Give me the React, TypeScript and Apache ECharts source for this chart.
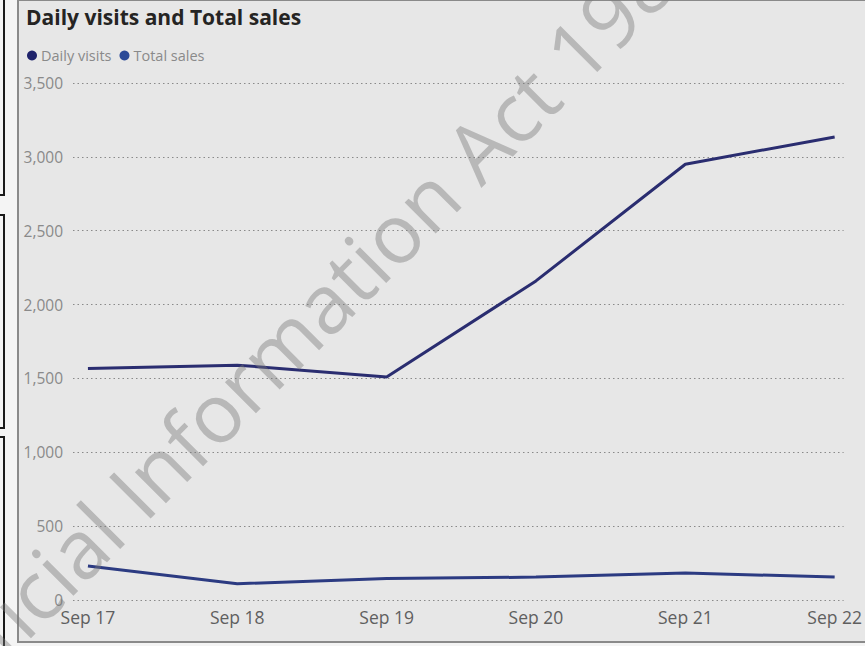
import React, { useEffect, useRef } from "react";
import * as echarts from "echarts";

const categories = ["Sep 17", "Sep 18", "Sep 19", "Sep 20", "Sep 21", "Sep 22"];
const dailyVisits = [1568, 1590, 1510, 2160, 2950, 3135];
const totalSales = [230, 110, 145, 155, 183, 155];
const yTicks = [0, 500, 1000, 1500, 2000, 2500, 3000, 3500];
const seriesNames = ["Daily visits", "Total sales"];
const titleText = "Daily visits and Total sales";
const watermarkHead = "Released under the Offi";
const watermarkTail = "cial Information Act 1982";

const fmt = (v: number) => v.toLocaleString("en-US");

export default function App() {
  const ref = useRef<HTMLDivElement>(null);
  useEffect(() => {
    if (!ref.current) return;
    const chart = echarts.init(ref.current, null, { renderer: "svg" });
    const font = "'Open Sans', 'Noto Sans', sans-serif";
    const rot = Math.PI / 4;
    const wmX = 18;
    const wmY = 606;
    const wmSize = 82;
    const wmFill = "rgba(120,120,120,0.42)";
    chart.setOption({
      animation: false,
      backgroundColor: "#e7e7e7",
      title: {
        text: titleText,
        left: 26,
        top: 6,
        padding: 0,
        textStyle: { fontSize: 21, fontWeight: "bold", color: "#252423", fontFamily: font },
      },
      legend: {
        data: seriesNames,
        left: 27,
        top: 48,
        padding: 0,
        icon: "circle",
        itemWidth: 10,
        itemHeight: 10,
        itemGap: 8,
        textStyle: { fontSize: 14.5, color: "#8a8a8a", fontFamily: font, padding: [0, 0, 0, -1] },
      },
      grid: { left: 73, right: 3, top: 83, bottom: 46, containLabel: false },
      xAxis: {
        type: "value",
        min: -0.1,
        max: 5.06,
        axisLine: { show: false },
        axisTick: { show: false },
        splitLine: { show: false },
        axisLabel: {
          customValues: categories.map((_, i) => i),
          formatter: (v: number) => categories[Math.round(v)] ?? "",
          fontSize: 17.5,
          color: "#5f5f5f",
          margin: 8,
          fontFamily: font,
        },
      },
      yAxis: {
        type: "value",
        min: yTicks[0],
        max: yTicks[yTicks.length - 1],
        interval: yTicks[1] - yTicks[0],
        axisLine: { show: false },
        axisTick: { show: false },
        axisLabel: {
          formatter: (v: number) => fmt(v),
          fontSize: 15.5,
          color: "#8a8a8a",
          margin: 10,
          fontFamily: font,
        },
        splitLine: { lineStyle: { type: [1.5, 3], color: "#8a8a8a", width: 1 } },
      },
      series: [
        {
          name: seriesNames[0],
          type: "line",
          data: dailyVisits.map((v, i) => [i, v]),
          symbol: "none",
          color: "#1f236b",
          lineStyle: { width: 3, color: "#2a2d70" },
        },
        {
          name: seriesNames[1],
          type: "line",
          data: totalSales.map((v, i) => [i, v]),
          symbol: "none",
          color: "#2b4a98",
          lineStyle: { width: 3, color: "#2c3b82" },
        },
      ],
      graphic: [
        { type: "rect", shape: { x: 0, y: 0, width: 18, height: 646 }, style: { fill: "#f4f4f4" }, silent: true },
        { type: "rect", shape: { x: 0, y: 643, width: 865, height: 3 }, style: { fill: "#f4f4f4" }, silent: true },
        { type: "rect", shape: { x: -10, y: -10, width: 14, height: 205 }, style: { fill: "none", stroke: "#1a1a1a", lineWidth: 2 }, silent: true },
        { type: "rect", shape: { x: -10, y: 215, width: 14, height: 213 }, style: { fill: "none", stroke: "#1a1a1a", lineWidth: 2 }, silent: true },
        { type: "rect", shape: { x: -10, y: 437, width: 14, height: 220 }, style: { fill: "none", stroke: "#1a1a1a", lineWidth: 2 }, silent: true },
        { type: "rect", shape: { x: 18, y: 0, width: 860, height: 642 }, style: { fill: "none", stroke: "#8a8a8a", lineWidth: 2 }, silent: true },
        {
          type: "text",
          x: wmX,
          y: wmY,
          rotation: rot,
          z: 100,
          silent: true,
          style: {
            text: watermarkTail,
            fontSize: wmSize,
            fontFamily: font,
            fill: wmFill,
            align: "left",
            verticalAlign: "middle",
          },
        },
        {
          type: "text",
          x: wmX,
          y: wmY,
          rotation: rot,
          z: 100,
          silent: true,
          style: {
            text: watermarkHead,
            fontSize: wmSize,
            fontFamily: font,
            fill: wmFill,
            align: "right",
            verticalAlign: "middle",
          },
        },
      ],
    });
    return () => chart.dispose();
  }, []);
  return (
    <div
      ref={ref}
      style={{ position: "fixed", left: 0, top: 0, width: 865, height: 646 }}
    />
  );
}
